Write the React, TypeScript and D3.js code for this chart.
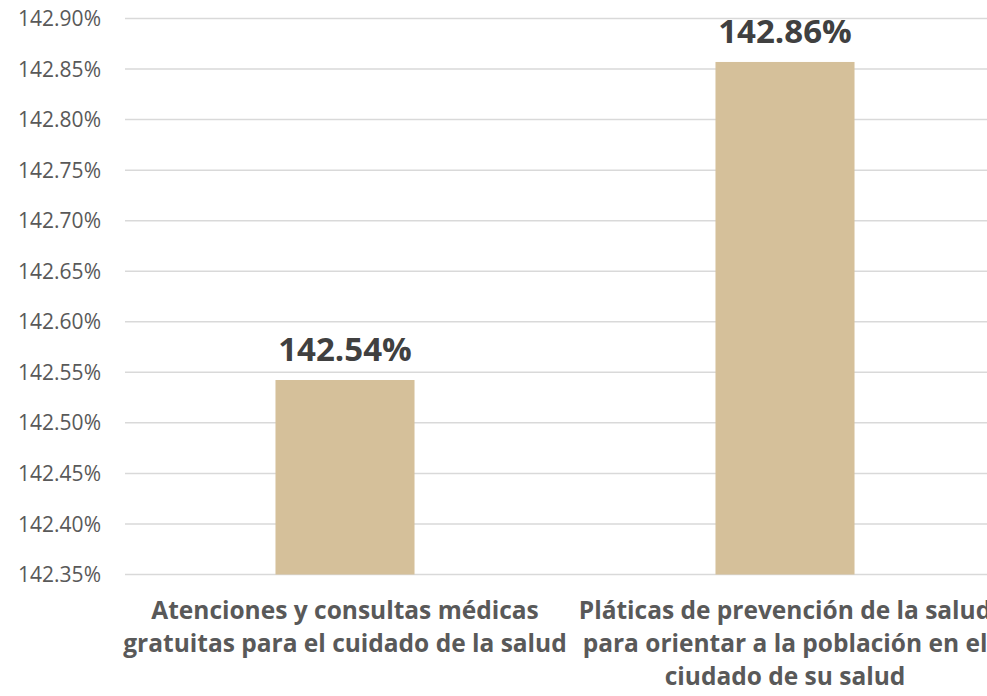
import React from "react";
import * as d3 from "d3";

const categories: string[][] = [
  ["Atenciones y consultas médicas", "gratuitas para el cuidado de la salud"],
  ["Pláticas de prevención de la salud", "para orientar a la población en el", "ciudado de su salud"],
];
const values: number[] = [142.5424, 142.857];
const valueLabels: string[] = ["142.54%", "142.86%"];
const yTicks: number[] = [142.35, 142.4, 142.45, 142.5, 142.55, 142.6, 142.65, 142.7, 142.75, 142.8, 142.85, 142.9];

const W = 987;
const H = 696;
const FONT = "'Open Sans', sans-serif";

export default function App() {
  const y = d3.scaleLinear().domain([142.35, 142.9]).range([574.5, 18.5]);
  const x = d3
    .scaleBand<number>()
    .domain(values.map((_, i) => i))
    .range([125, 1005])
    .paddingInner(0.684)
    .paddingOuter(0.342);

  return (
    <svg width={W} height={H} style={{ position: "absolute", left: 0, top: 0, background: "#fff" }}>
      {yTicks.map((t) => (
        <g key={t}>
          <line x1={125} x2={W} y1={y(t)} y2={y(t)} stroke="#d9d9d9" strokeWidth={1.5} />
          <text x={101} y={y(t)} dy="0.36em" textAnchor="end" fontFamily={FONT} fontSize={21} fill="#595959">
            {t.toFixed(2) + "%"}
          </text>
        </g>
      ))}
      {values.map((v, i) => (
        <g key={i}>
          <rect x={x(i)} y={y(v)} width={x.bandwidth()} height={y(142.35) - y(v)} fill="#d5c09a" />
          <text
            x={(x(i) as number) + x.bandwidth() / 2}
            y={y(v) - 19}
            textAnchor="middle"
            fontFamily={FONT}
            fontWeight="bold"
            fontSize={33}
            fill="#404040"
          >
            {valueLabels[i]}
          </text>
          {categories[i].map((line, j) => (
            <text
              key={j}
              x={(x(i) as number) + x.bandwidth() / 2}
              y={619 + j * 33}
              textAnchor="middle"
              fontFamily={FONT}
              fontWeight="bold"
              fontSize={24.5}
              fill="#595959"
            >
              {line}
            </text>
          ))}
        </g>
      ))}
    </svg>
  );
}
